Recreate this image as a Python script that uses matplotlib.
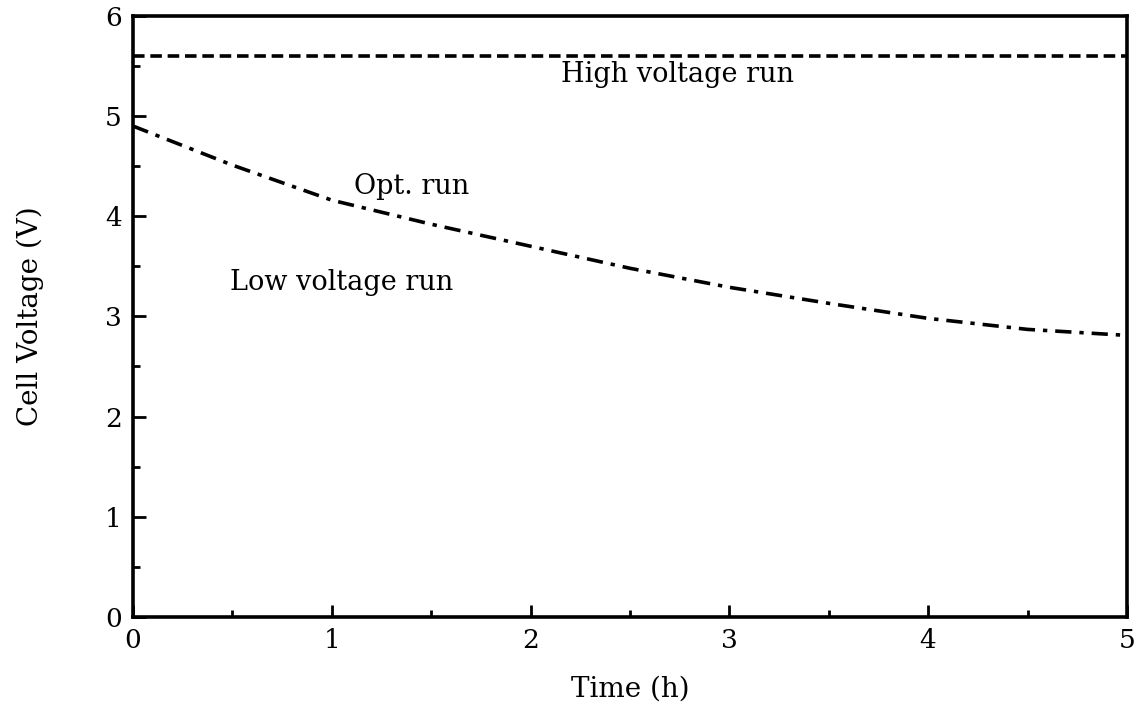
import numpy as np
import matplotlib.pyplot as plt
from matplotlib.ticker import MultipleLocator

plt.rcParams['font.family'] = ['DejaVu Serif']

# readings
time_h = [0, 0.5, 1, 1.5, 2, 2.5, 3, 3.5, 4, 4.5, 5]
opt_v = [4.90, 4.51, 4.16, 3.92, 3.70, 3.48, 3.29, 3.13, 2.98, 2.87, 2.81]
high_t = [0, 5]
high_v = [5.6, 5.6]

labels = ['High voltage run', 'Opt. run', 'Low voltage run']
label_pos = [(2.74, 5.41), (1.40, 4.30), (1.05, 3.34)]

fig = plt.figure(figsize=(11.36, 7.19), dpi=100)
ax = fig.add_axes([0.117, 0.142, 0.875, 0.836])

ax.plot(high_t, high_v, color='black', lw=2.6, dashes=(3.2, 1.6))
ax.plot(time_h, opt_v, color='black', lw=2.6, dashes=(4.5, 2.2, 1.2, 2.2))

for txt, (x, y) in zip(labels, label_pos):
    ax.text(x, y, txt, fontsize=19.5, ha='center', va='center')

ax.set_xlim(0, 5)
ax.set_ylim(0, 6)
ax.xaxis.set_major_locator(MultipleLocator(1))
ax.xaxis.set_minor_locator(MultipleLocator(0.5))
ax.yaxis.set_major_locator(MultipleLocator(1))
ax.yaxis.set_minor_locator(MultipleLocator(0.5))
ax.tick_params(which='major', direction='in', length=9, width=2, labelsize=19, pad=8)
ax.tick_params(which='minor', direction='in', length=5, width=2)
for s in ax.spines.values():
    s.set_linewidth(2.6)

ax.set_xlabel('Time (h)', fontsize=20, labelpad=16)
ax.set_ylabel('Cell Voltage (V)', fontsize=20, labelpad=44)

plt.savefig('out.png', dpi=100)
